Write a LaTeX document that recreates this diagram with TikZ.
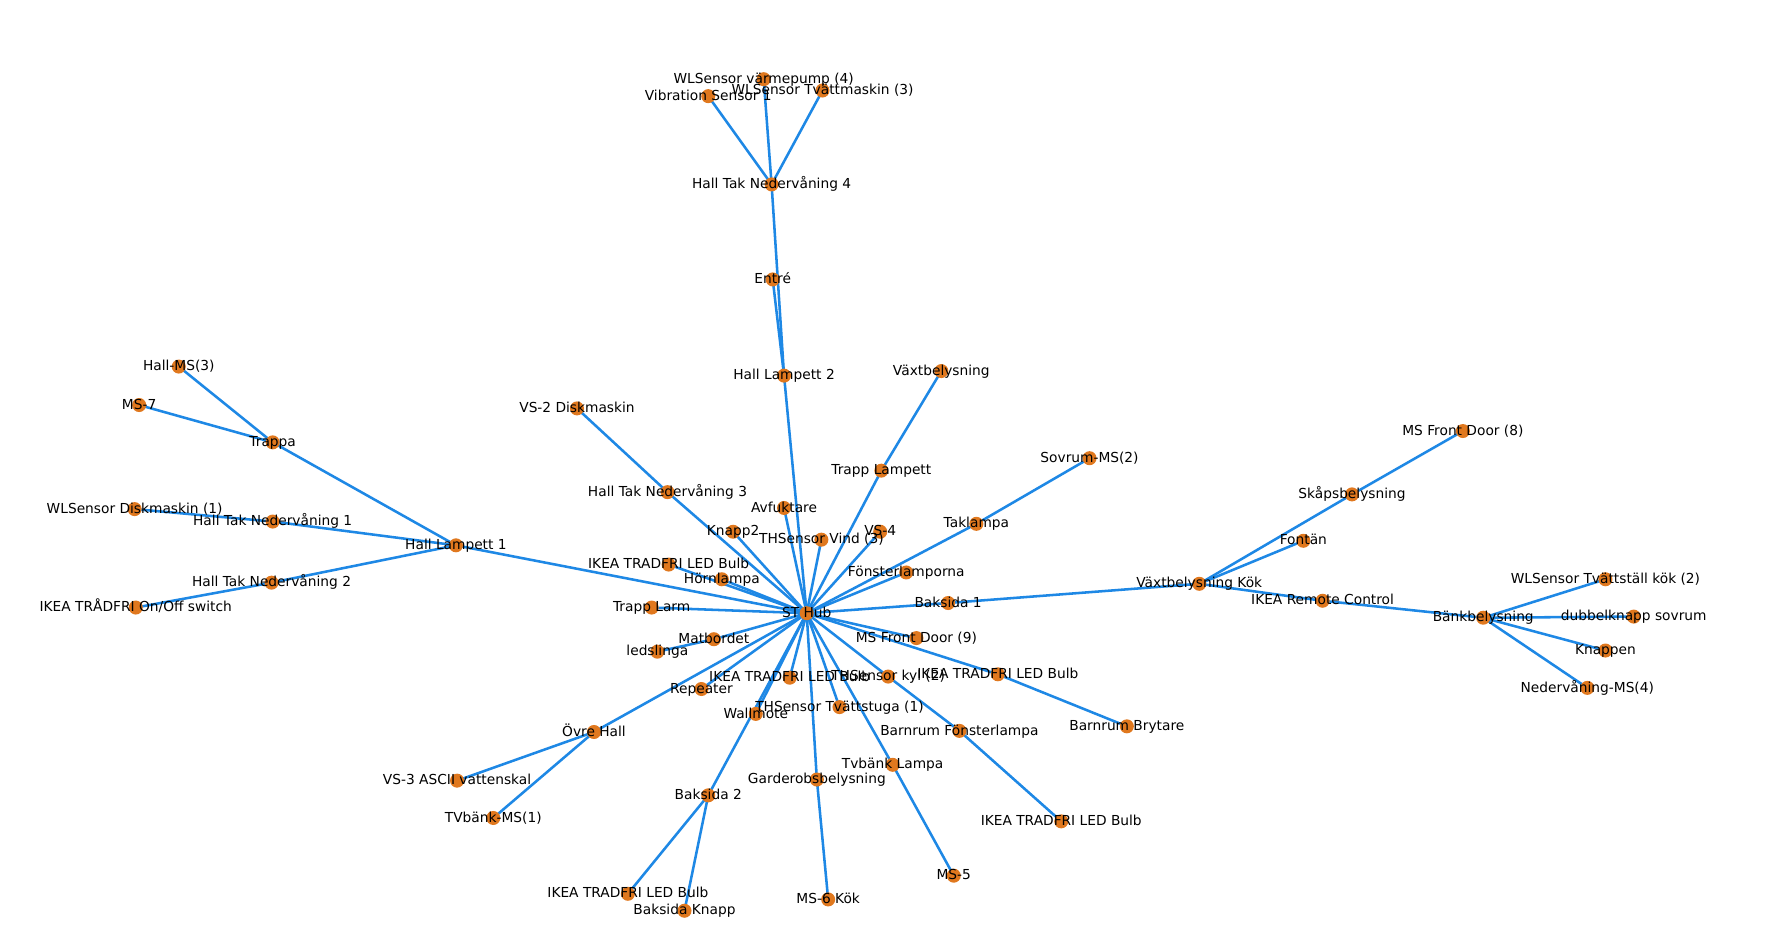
\documentclass[tikz,border=0pt]{standalone}
\usepackage{fontspec}
\setmainfont{DejaVu Sans}
\usetikzlibrary{backgrounds}
\definecolor{devorange}{RGB}{224,120,30}
\definecolor{linkblue}{RGB}{30,136,229}
\begin{document}
\begin{tikzpicture}[
    x=0.025cm,
    y=-0.025cm,
    dev/.style={circle, fill=devorange, draw=none, minimum size=0.31cm, inner sep=0pt},
    link/.style={linkblue, line width=1.6pt},
    txt/.style={inner sep=0pt, anchor=center, text height=0.76em, text depth=0.236em,
      font=\fontsize{8.65}{10}\selectfont}
  ]
    \useasboundingbox (0,0) rectangle (1568,833);

    % Enheter (pixelkoordinater)
    \node[dev] (hub) at (713,542) {};
    % --- Hall Lampett 1 ---
    \node[dev] (hl1) at (403,482) {};
    \node[dev] (trappa) at (241,391) {};
    \node[dev] (hallms3) at (158,324) {};
    \node[dev] (ms7) at (123,358) {};
    \node[dev] (htn1) at (241,461) {};
    \node[dev] (wldisk) at (119,450) {};
    \node[dev] (htn2) at (240,515) {};
    \node[dev] (onoff) at (120,537) {};
    \node[dev] (vs2) at (510,361) {};
    \node[dev] (htn3) at (590,435) {};
    % --- Hall Lampett 2 ---
    \node[dev] (hl2) at (693,332) {};
    \node[dev] (entre) at (683,247) {};
    \node[dev] (htn4) at (682,163) {};
    \node[dev] (vibr) at (626,85) {};
    \node[dev] (varmep) at (675,70) {};
    \node[dev] (tvattm) at (727,80) {};
    % --- runt ST Hub ---
    \node[dev] (avfukt) at (693,449) {};
    \node[dev] (knapp2) at (648,470) {};
    \node[dev] (thvind) at (726,477) {};
    \node[dev] (vs4) at (778,470) {};
    \node[dev] (trappl) at (779,416) {};
    \node[dev] (vaxt) at (832,328) {};
    \node[dev] (taklampa) at (863,463) {};
    \node[dev] (sovrum) at (963,405) {};
    \node[dev] (fonster) at (801,506) {};
    \node[dev] (ledA) at (591,499) {};
    \node[dev] (hornl) at (638,512) {};
    \node[dev] (trapplarm) at (576,537) {};
    \node[dev] (matb) at (631,565) {};
    \node[dev] (ledsl) at (581,576) {};
    \node[dev] (baks1) at (838,533) {};
    \node[dev] (msfd9) at (810,564) {};
    \node[dev] (ledB) at (698,599) {};
    \node[dev] (thkyl) at (785,598) {};
    \node[dev] (ledC) at (882,596) {};
    \node[dev] (brytare) at (996,642) {};
    \node[dev] (bfonster) at (848,646) {};
    \node[dev] (ledD) at (938,726) {};
    \node[dev] (repeater) at (620,609) {};
    \node[dev] (wallmote) at (668,631) {};
    \node[dev] (thtvatt) at (742,625) {};
    \node[dev] (ovre) at (525,647) {};
    \node[dev] (vs3) at (404,690) {};
    \node[dev] (tvbms1) at (436,723) {};
    \node[dev] (baks2) at (626,703) {};
    \node[dev] (ledE) at (555,790) {};
    \node[dev] (bknapp) at (605,805) {};
    \node[dev] (tvbl) at (789,676) {};
    \node[dev] (ms5) at (843,774) {};
    \node[dev] (garderob) at (722,689) {};
    \node[dev] (ms6) at (732,795) {};
    % --- Växtbelysning Kök ---
    \node[dev] (vkok) at (1060,516) {};
    \node[dev] (skap) at (1195,437) {};
    \node[dev] (msfd8) at (1293,381) {};
    \node[dev] (fontan) at (1152,478) {};
    \node[dev] (remote) at (1169,531) {};
    \node[dev] (bank) at (1311,546) {};
    \node[dev] (wltvst) at (1419,512) {};
    \node[dev] (dubbel) at (1444,545) {};
    \node[dev] (knappen) at (1419,575) {};
    \node[dev] (nedms4) at (1403,608) {};

    % Kopplingar
    \begin{pgfonlayer}{background}
      \foreach \a/\b in {hub/hl1, hl1/trappa, trappa/hallms3, trappa/ms7,
          hl1/htn1, htn1/wldisk, hl1/htn2, htn2/onoff, hub/htn3, htn3/vs2,
          hub/hl2, hl2/entre, hl2/htn4, htn4/vibr, htn4/varmep, htn4/tvattm,
          hub/avfukt, hub/knapp2, hub/thvind, hub/vs4, hub/trappl, trappl/vaxt,
          hub/taklampa, taklampa/sovrum, hub/fonster, hub/ledA, hub/hornl,
          hub/trapplarm, hub/matb, matb/ledsl, hub/baks1, baks1/vkok, hub/msfd9,
          hub/ledB, hub/thkyl, thkyl/bfonster, bfonster/ledD, hub/ledC, ledC/brytare,
          hub/repeater, hub/wallmote, hub/baks2, baks2/ledE, baks2/bknapp,
          hub/thtvatt, hub/ovre, ovre/vs3, ovre/tvbms1, hub/tvbl, tvbl/ms5,
          hub/garderob, garderob/ms6, vkok/skap, skap/msfd8, vkok/fontan,
          vkok/remote, remote/bank, bank/wltvst, bank/dubbel, bank/knappen,
          bank/nedms4} {
        \draw[link] (\a.center) -- (\b.center);
      }
    \end{pgfonlayer}

    % Etiketter
    \node[txt] (hub-t) at (hub) {ST Hub};
    \node[txt] (hl1-t) at (hl1) {Hall Lampett 1};
    \node[txt] (trappa-t) at (trappa) {Trappa};
    \node[txt] (hallms3-t) at (hallms3) {Hall-MS(3)};
    \node[txt] (ms7-t) at (ms7) {MS-7};
    \node[txt] (htn1-t) at (htn1) {Hall Tak Nedervåning 1};
    \node[txt] (wldisk-t) at (wldisk) {WLSensor Diskmaskin (1)};
    \node[txt] (htn2-t) at (htn2) {Hall Tak Nedervåning 2};
    \node[txt] (onoff-t) at (onoff) {IKEA TRÅDFRI On/Off switch};
    \node[txt] (vs2-t) at (vs2) {VS-2 Diskmaskin};
    \node[txt] (htn3-t) at (htn3) {Hall Tak Nedervåning 3};
    \node[txt] (hl2-t) at (hl2) {Hall Lampett 2};
    \node[txt] (entre-t) at (entre) {Entré};
    \node[txt] (htn4-t) at (htn4) {Hall Tak Nedervåning 4};
    \node[txt] (vibr-t) at (vibr) {Vibration Sensor 1};
    \node[txt] (varmep-t) at (varmep) {WLSensor värmepump (4)};
    \node[txt] (tvattm-t) at (tvattm) {WLSensor Tvättmaskin (3)};
    \node[txt] (avfukt-t) at (avfukt) {Avfuktare};
    \node[txt] (knapp2-t) at (knapp2) {Knapp2};
    \node[txt] (thvind-t) at (thvind) {THSensor Vind (3)};
    \node[txt] (vs4-t) at (vs4) {VS-4};
    \node[txt] (trappl-t) at (trappl) {Trapp Lampett};
    \node[txt] (vaxt-t) at (vaxt) {Växtbelysning};
    \node[txt] (taklampa-t) at (taklampa) {Taklampa};
    \node[txt] (sovrum-t) at (sovrum) {Sovrum-MS(2)};
    \node[txt] (fonster-t) at (fonster) {Fönsterlamporna};
    \node[txt] (ledA-t) at (ledA) {IKEA TRADFRI LED Bulb};
    \node[txt] (hornl-t) at (hornl) {Hörnlampa};
    \node[txt] (trapplarm-t) at (trapplarm) {Trapp Larm};
    \node[txt] (matb-t) at (matb) {Matbordet};
    \node[txt] (ledsl-t) at (ledsl) {ledslinga};
    \node[txt] (baks1-t) at (baks1) {Baksida 1};
    \node[txt] (msfd9-t) at (msfd9) {MS Front Door (9)};
    \node[txt] (ledB-t) at (ledB) {IKEA TRADFRI LED Bulb};
    \node[txt] (thkyl-t) at (thkyl) {THSensor kyl (2)};
    \node[txt] (ledC-t) at (ledC) {IKEA TRADFRI LED Bulb};
    \node[txt] (brytare-t) at (brytare) {Barnrum Brytare};
    \node[txt] (bfonster-t) at (bfonster) {Barnrum Fönsterlampa};
    \node[txt] (ledD-t) at (ledD) {IKEA TRADFRI LED Bulb};
    \node[txt] (repeater-t) at (repeater) {Repeater};
    \node[txt] (wallmote-t) at (wallmote) {Wallmote};
    \node[txt] (thtvatt-t) at (thtvatt) {THSensor Tvättstuga (1)};
    \node[txt] (ovre-t) at (ovre) {Övre Hall};
    \node[txt] (vs3-t) at (vs3) {VS-3 ASCII vattenskal};
    \node[txt] (tvbms1-t) at (tvbms1) {TVbänk-MS(1)};
    \node[txt] (baks2-t) at (baks2) {Baksida 2};
    \node[txt] (ledE-t) at (ledE) {IKEA TRADFRI LED Bulb};
    \node[txt] (bknapp-t) at (bknapp) {Baksida Knapp};
    \node[txt] (tvbl-t) at (tvbl) {Tvbänk Lampa};
    \node[txt] (ms5-t) at (ms5) {MS-5};
    \node[txt] (garderob-t) at (garderob) {Garderobsbelysning};
    \node[txt] (ms6-t) at (ms6) {MS-6 Kök};
    \node[txt] (vkok-t) at (vkok) {Växtbelysning Kök};
    \node[txt] (skap-t) at (skap) {Skåpsbelysning};
    \node[txt] (msfd8-t) at (msfd8) {MS Front Door (8)};
    \node[txt] (fontan-t) at (fontan) {Fontän};
    \node[txt] (remote-t) at (remote) {IKEA Remote Control};
    \node[txt] (bank-t) at (bank) {Bänkbelysning};
    \node[txt] (wltvst-t) at (wltvst) {WLSensor Tvättställ kök (2)};
    \node[txt] (dubbel-t) at (dubbel) {dubbelknapp sovrum};
    \node[txt] (knappen-t) at (knappen) {Knappen};
    \node[txt] (nedms4-t) at (nedms4) {Nedervåning-MS(4)};
  \end{tikzpicture}
\end{document}
